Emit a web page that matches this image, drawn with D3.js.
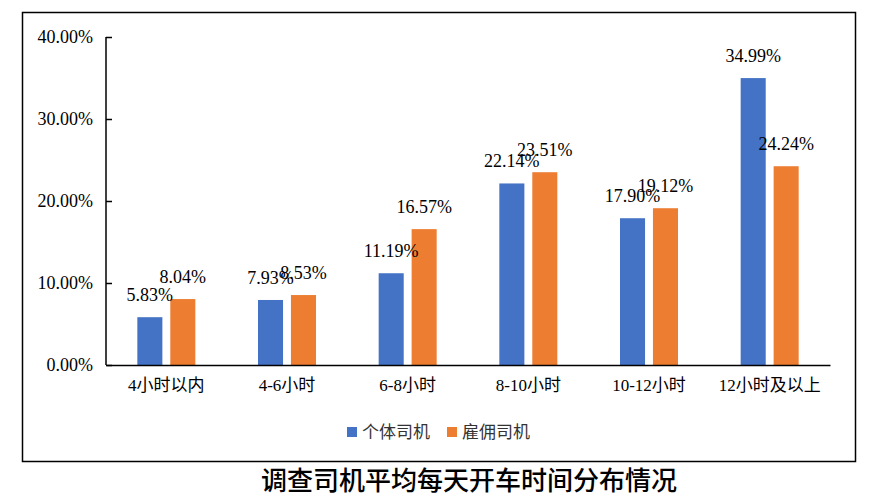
<!DOCTYPE html>
<html>
<head>
<meta charset="utf-8">
<script src="https://cdn.jsdelivr.net/npm/d3@7"></script>
<style>
  body { margin: 0; background: #fff; }
  text { font-family: "Liberation Serif", "Noto Sans CJK SC", serif; fill: #000; }
</style>
</head>
<body>
<div id="chart"></div>
<script>
// data
const categories = ["4小时以内", "4-6小时", "6-8小时", "8-10小时", "10-12小时", "12小时及以上"];
const seriesNames = ["个体司机", "雇佣司机"];
const individual = [5.83, 7.93, 11.19, 22.14, 17.90, 34.99];
const employed = [8.04, 8.53, 16.57, 23.51, 19.12, 24.24];
const yTicks = [0, 10, 20, 30, 40];
const colors = ["#4472C4", "#ED7D31"];

const width = 872, height = 502;
const margin = { left: 106, right: 42, top: 37, bottom: 137 };

const svg = d3.select("#chart").append("svg")
    .attr("width", width)
    .attr("height", height);

// outer frame
svg.append("rect")
    .attr("x", 22.5).attr("y", 12.5)
    .attr("width", 833).attr("height", 449)
    .attr("fill", "none")
    .attr("stroke", "#000")
    .attr("stroke-width", 1.5);

const x = d3.scaleBand()
    .domain(categories)
    .range([margin.left, width - margin.right]);

const xInner = d3.scaleBand()
    .domain(seriesNames)
    .range([0, 58])
    .paddingInner(0.24);

const y = d3.scaleLinear()
    .domain([0, 40])
    .range([height - margin.bottom, margin.top]);

const rows = categories.map((c, i) => ({ cat: c, vals: [individual[i], employed[i]] }));

const groups = svg.append("g").selectAll("g")
    .data(rows)
    .join("g")
    .attr("transform", d => `translate(${x(d.cat) + x.bandwidth() / 2 - 29},0)`);

groups.selectAll("rect")
    .data(d => d.vals.map((v, j) => ({ name: seriesNames[j], v: v, j: j })))
    .join("rect")
    .attr("x", d => xInner(d.name))
    .attr("y", d => y(d.v))
    .attr("width", xInner.bandwidth())
    .attr("height", d => y(0) - y(d.v))
    .attr("fill", d => colors[d.j]);

groups.selectAll("text")
    .data(d => d.vals.map((v, j) => ({ name: seriesNames[j], v: v, j: j })))
    .join("text")
    .attr("x", d => xInner(d.name) + xInner.bandwidth() / 2)
    .attr("y", d => y(d.v) - 16)
    .attr("text-anchor", "middle")
    .style("font-size", "18px")
    .text(d => d.v.toFixed(2) + "%");

// y axis
const yAxis = svg.append("g")
    .attr("transform", `translate(${margin.left},0)`)
    .call(d3.axisRight(y).tickValues(yTicks).tickSize(6).tickFormat(d => d.toFixed(2) + "%"));
yAxis.select(".domain").attr("stroke", "#000").attr("stroke-width", 1.5).attr("d", `M0,${y(40)}V${y(0)}`);
yAxis.selectAll(".tick line").attr("stroke", "#000").attr("stroke-width", 1.5);
yAxis.selectAll(".tick text")
    .attr("x", -13)
    .attr("text-anchor", "end")
    .style("font-size", "18px")
    .style("font-family", "Liberation Serif, serif");

// x axis
const xAxis = svg.append("g")
    .attr("transform", `translate(0,${y(0)})`)
    .call(d3.axisBottom(x).tickSize(0).tickPadding(14));
xAxis.select(".domain").attr("stroke", "#000").attr("stroke-width", 1.5);
xAxis.selectAll(".tick text")
    .style("font-size", "17px")
    .style("font-family", "Liberation Serif, Noto Sans CJK SC, serif");

// legend
const legend = svg.append("g").attr("transform", "translate(347,432)");
const legendX = [0, 100];
seriesNames.forEach((n, i) => {
    legend.append("rect")
        .attr("x", legendX[i]).attr("y", -5)
        .attr("width", 10).attr("height", 10)
        .attr("fill", colors[i]);
    legend.append("text")
        .attr("x", legendX[i] + 15).attr("y", 6)
        .style("font-size", "17px")
        .style("font-family", "Noto Sans CJK SC, sans-serif")
        .style("fill", "#333")
        .text(n);
});

// title
svg.append("text")
    .attr("x", 469).attr("y", 490)
    .attr("text-anchor", "middle")
    .style("font-size", "26px")
    .style("font-weight", "500")
    .style("font-family", "Noto Sans CJK SC, sans-serif")
    .text("调查司机平均每天开车时间分布情况");
</script>
</body>
</html>
